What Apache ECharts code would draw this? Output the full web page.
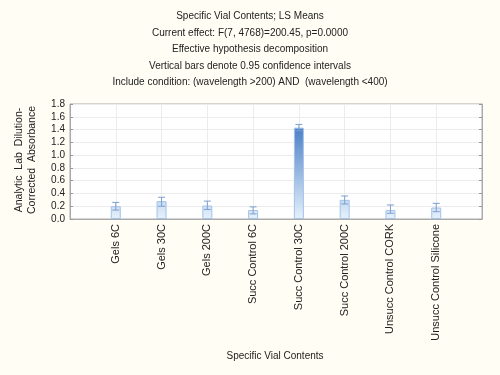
<!DOCTYPE html>
<html>
<head>
<meta charset="utf-8">
<script src="https://cdn.jsdelivr.net/npm/echarts@6/dist/echarts.min.js"></script>
<style>
  html, body { margin: 0; padding: 0; background: #fffdf4; }
  #main { width: 500px; height: 375px; }
</style>
</head>
<body>
<div id="main"></div>
<script>
// categories + LS means + 95% CI bounds
const categories = ['Gels 6C', 'Gels 30C', 'Gels 200C', 'Succ Control 6C', 'Succ Control 30C',
    'Succ Control 200C', 'Unsucc Control CORK', 'Unsucc Control Silicone']
const means = [0.20, 0.28, 0.21, 0.14, 1.43, 0.30, 0.14, 0.18]
const ciLow = [0.14, 0.20, 0.15, 0.08, 1.38, 0.235, 0.09, 0.115]
const ciHigh = [0.26, 0.34, 0.28, 0.19, 1.48, 0.36, 0.22, 0.245]
const titleLines = [
    'Specific Vial Contents; LS Means',
    'Current effect: F(7, 4768)=200.45, p=0.0000',
    'Effective hypothesis decomposition',
    'Vertical bars denote 0.95 confidence intervals',
    'Include condition: (wavelength >200) AND  (wavelength <400)'
]
const yTitle = ['Analytic  Lab  Dilution-', 'Corrected  Absorbance']
const xTitle = 'Specific Vial Contents'

// pad one empty slot each side so the bars sit in from the frame
const xCats = [''].concat(categories, [''])
const barData = ['-'].concat(means, ['-'])
const errData = categories.map((c, i) => [i + 1, ciLow[i], ciHigh[i]])

const font = 'Liberation Sans, Arial, sans-serif'
const chart = echarts.init(document.getElementById('main'))

const option = {
    backgroundColor: '#fffdf4',
    animation: false,
    title: {
        text: titleLines.join('\n'),
        left: 'center',
        top: 3,
        textStyle: {
            fontFamily: font,
            fontSize: 10,
            fontWeight: 'normal',
            color: '#222',
            lineHeight: 16.6
        }
    },
    grid: {
        left: 70,
        right: 18,
        top: 104,
        bottom: 156,
        show: true,
        backgroundColor: '#ffffff',
        borderColor: '#aaaaaa',
        borderWidth: 1
    },
    graphic: [{
        type: 'text',
        x: 26,
        y: 160,
        rotation: Math.PI / 2,
        style: {
            text: yTitle.join('\n'),
            font: '10.5px ' + font,
            fill: '#222',
            align: 'center',
            verticalAlign: 'middle',
            lineHeight: 13
        }
    }, {
        type: 'text',
        x: 275,
        y: 356,
        style: {
            text: xTitle,
            font: '10px ' + font,
            fill: '#222',
            align: 'center',
            verticalAlign: 'middle'
        }
    }],
    xAxis: {
        type: 'category',
        data: xCats,
        boundaryGap: false,
        axisLine: { lineStyle: { color: '#aaaaaa' } },
        axisTick: { show: false },
        axisLabel: {
            rotate: 90,
            margin: 5,
            fontFamily: font,
            fontSize: 11,
            color: '#222',
            interval: 0
        },
        splitLine: { show: true, lineStyle: { color: '#ececec', width: 1 } }
    },
    yAxis: [{
        type: 'value',
        min: 0,
        max: 1.8,
        interval: 0.2,
        axisLine: { show: true, lineStyle: { color: '#aaaaaa' } },
        axisTick: { show: true, inside: true, length: 3, lineStyle: { color: '#999' } },
        axisLabel: {
            margin: 5,
            fontFamily: font,
            fontSize: 10,
            color: '#222',
            formatter: v => v.toFixed(1)
        },
        splitLine: { show: true, lineStyle: { color: '#ececec', width: 1 } }
    }, {
        type: 'value',
        min: 0,
        max: 1.8,
        interval: 0.2,
        position: 'right',
        axisLine: { show: true, lineStyle: { color: '#aaaaaa' } },
        axisTick: { show: true, inside: true, length: 3, lineStyle: { color: '#999' } },
        axisLabel: { show: false },
        splitLine: { show: false }
    }],
    series: [{
        type: 'bar',
        data: barData,
        barWidth: 10,
        itemStyle: {
            // gradient spans the whole plot height, so short bars stay pale
            color: new echarts.graphic.LinearGradient(0, 104, 0, 219, [
                { offset: 0, color: '#2463b8' },
                { offset: 1, color: '#e6f1fc' }
            ], true),
            borderColor: '#a3c2e8',
            borderWidth: 1
        }
    }, {
        type: 'custom',
        data: errData,
        z: 5,
        renderItem: function (params, api) {
            const x = api.coord([api.value(0), api.value(1)])[0]
            const lo = api.coord([api.value(0), api.value(1)])[1]
            const hi = api.coord([api.value(0), api.value(2)])[1]
            const half = 3.5
            const st = { stroke: '#7d9fcf', lineWidth: 1 }
            return {
                type: 'group',
                children: [
                    { type: 'line', shape: { x1: x, y1: lo, x2: x, y2: hi }, style: st },
                    { type: 'line', shape: { x1: x - half, y1: lo, x2: x + half, y2: lo }, style: st },
                    { type: 'line', shape: { x1: x - half, y1: hi, x2: x + half, y2: hi }, style: st }
                ]
            }
        }
    }]
}

chart.setOption(option)
</script>
</body>
</html>
